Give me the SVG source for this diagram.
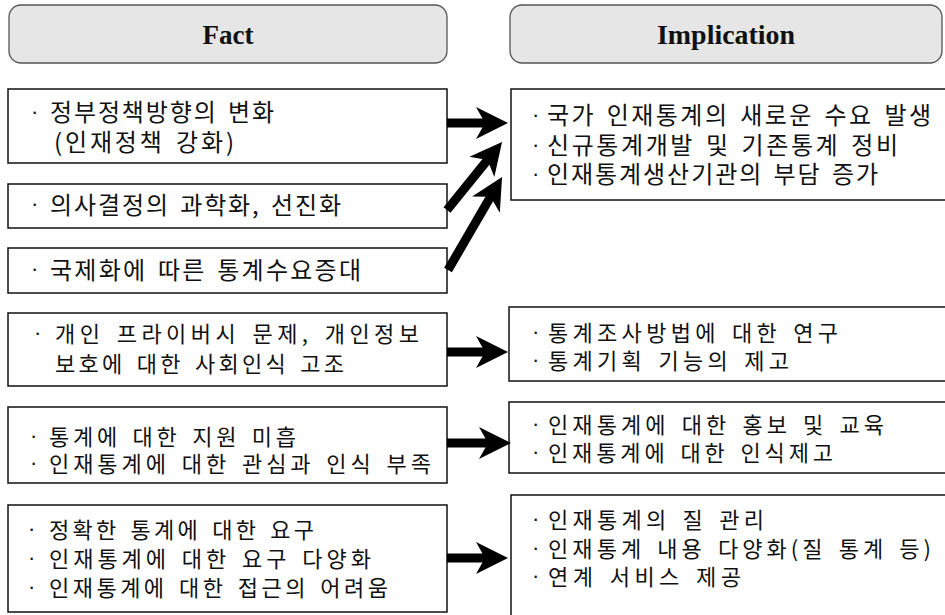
<svg xmlns="http://www.w3.org/2000/svg" width="945" height="615" viewBox="0 0 945 615">
<style>
.hdr{fill:#e6e6e6;stroke:#555;stroke-width:1.3}
.htx{font-family:"Liberation Serif","DejaVu Serif",serif;font-weight:bold;font-size:27px;fill:#111;text-anchor:middle}
.box{fill:#fff;stroke:#111;stroke-width:1.5}
.t{font-family:"Noto Sans CJK KR","Noto Sans",sans-serif;font-size:22px;fill:#111;word-spacing:3px}
.tb{font-size:24px}
.b{font-family:"Liberation Sans",sans-serif;font-size:22px;fill:#111}
.con line{stroke:#000;stroke-width:9;fill:none;marker-end:url(#ah)}
</style>
<defs>
<marker id="ah" markerUnits="userSpaceOnUse" markerWidth="44" markerHeight="44" viewBox="-14 -22 44 44" refX="0" refY="0" orient="auto" overflow="visible">
<path d="M22,0 L-10,-16 L-1,0 L-10,16 Z" fill="#000"/>
</marker>
</defs>
<rect width="945" height="615" fill="#fff"/>
<g id="hdr-fact"><rect class="hdr" x="9" y="5" width="438" height="58" rx="12"/><text class="htx" x="228" y="44">Fact</text></g>
<g id="hdr-impl"><rect class="hdr" x="510" y="5" width="432" height="58" rx="12"/><text class="htx" x="726" y="44" textLength="138" lengthAdjust="spacingAndGlyphs">Implication</text></g>

<g id="f1"><rect class="box" x="8" y="89" width="439" height="74"/>
<text class="b" x="31" y="119">·</text>
<text class="t tb" x="50" y="121" textLength="224" lengthAdjust="spacing">정부정책방향의 변화</text>
<text class="t tb" x="54" y="151" textLength="180" lengthAdjust="spacing">(인재정책 강화)</text></g>
<g id="f2"><rect class="box" x="8" y="184" width="439" height="44"/>
<text class="b" x="31" y="211">·</text>
<text class="t tb" x="50" y="214" textLength="291" lengthAdjust="spacing">의사결정의 과학화, 선진화</text></g>
<g id="f3"><rect class="box" x="8" y="248" width="439" height="45"/>
<text class="b" x="31" y="276">·</text>
<text class="t tb" x="50" y="279" textLength="311" lengthAdjust="spacing">국제화에 따른 통계수요증대</text></g>
<g id="f4"><rect class="box" x="8" y="313" width="439" height="73"/>
<text class="b" x="34" y="340">·</text>
<text class="t" x="55" y="342" textLength="364" lengthAdjust="spacing">개인 프라이버시 문제, 개인정보</text>
<text class="t" x="55" y="372" textLength="289" lengthAdjust="spacing">보호에 대한 사회인식 고조</text></g>
<g id="f5"><rect class="box" x="8" y="407" width="439" height="76"/>
<text class="b" x="30" y="443">·</text>
<text class="t" x="49" y="445" textLength="247" lengthAdjust="spacing">통계에 대한 지원 미흡</text>
<text class="b" x="30" y="470">·</text>
<text class="t" x="49" y="472" textLength="382" lengthAdjust="spacing">인재통계에 대한 관심과 인식 부족</text></g>
<g id="f6"><rect class="box" x="8" y="505" width="439" height="107"/>
<text class="b" x="28" y="536">·</text>
<text class="t" x="49" y="538" textLength="265" lengthAdjust="spacing">정확한 통계에 대한 요구</text>
<text class="b" x="28" y="565">·</text>
<text class="t" x="49" y="567" textLength="322" lengthAdjust="spacing">인재통계에 대한 요구 다양화</text>
<text class="b" x="28" y="594">·</text>
<text class="t" x="49" y="596" textLength="339" lengthAdjust="spacing">인재통계에 대한 접근의 어려움</text></g>

<g id="i1"><rect class="box" x="511" y="89" width="450" height="111"/>
<text class="b" x="532" y="122">·</text>
<text class="t tb" x="547" y="124" textLength="384" lengthAdjust="spacing">국가 인재통계의 새로운 수요 발생</text>
<text class="b" x="532" y="152">·</text>
<text class="t tb" x="547" y="154" textLength="351" lengthAdjust="spacing">신규통계개발 및 기존통계 정비</text>
<text class="b" x="532" y="181">·</text>
<text class="t tb" x="547" y="183" textLength="331" lengthAdjust="spacing">인재통계생산기관의 부담 증가</text></g>
<g id="i2"><rect class="box" x="509" y="307" width="452" height="74"/>
<text class="b" x="532" y="339">·</text>
<text class="t" x="548" y="341" textLength="290" lengthAdjust="spacing">통계조사방법에 대한 연구</text>
<text class="b" x="532" y="367">·</text>
<text class="t" x="548" y="369" textLength="241" lengthAdjust="spacing">통계기획 기능의 제고</text></g>
<g id="i3"><rect class="box" x="509" y="402" width="452" height="71"/>
<text class="b" x="532" y="431">·</text>
<text class="t" x="548" y="433" textLength="336" lengthAdjust="spacing">인재통계에 대한 홍보 및 교육</text>
<text class="b" x="532" y="459">·</text>
<text class="t" x="548" y="461" textLength="285" lengthAdjust="spacing">인재통계에 대한 인식제고</text></g>
<g id="i4"><rect class="box" x="511" y="495" width="450" height="130"/>
<text class="b" x="532" y="526">·</text>
<text class="t" x="548" y="528" textLength="216" lengthAdjust="spacing">인재통계의 질 관리</text>
<text class="b" x="532" y="555">·</text>
<text class="t" x="548" y="557" textLength="383" lengthAdjust="spacing">인재통계 내용 다양화(질 통계 등)</text>
<text class="b" x="532" y="583">·</text>
<text class="t" x="548" y="585" textLength="193" lengthAdjust="spacing">연계 서비스 제공</text></g>

<g id="connectors" class="con">
<line x1="447" y1="123" x2="486" y2="123"/>
<line x1="447" y1="210" x2="488.2" y2="159.1"/>
<line x1="448" y1="270" x2="491" y2="196"/>
<line x1="447" y1="352" x2="486" y2="352"/>
<line x1="447" y1="443" x2="489" y2="443"/>
<line x1="447" y1="558" x2="486" y2="558"/>
</g>
</svg>
